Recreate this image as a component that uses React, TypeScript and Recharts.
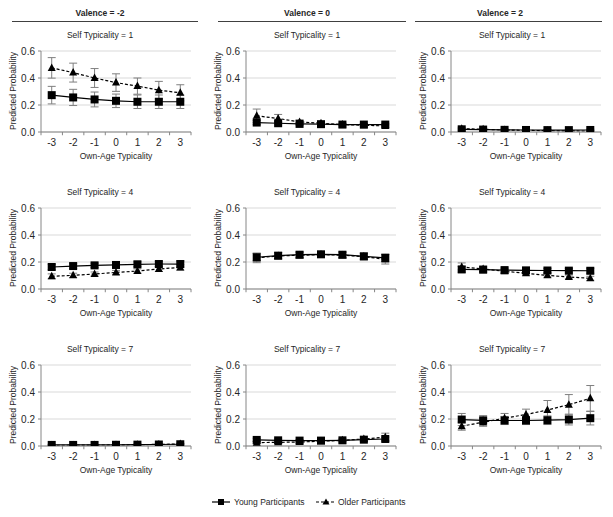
import React from 'react';
import { LineChart, Line, XAxis, YAxis, CartesianGrid, ErrorBar, ReferenceLine } from 'recharts';

const categories = [-3, -2, -1, 0, 1, 2, 3];
const boundaries = [-3.5, -2.5, -1.5, -0.5, 0.5, 1.5, 2.5, 3.5];
const yTicks = [0, 0.1, 0.2, 0.3, 0.4, 0.5, 0.6];
const valences = ['-2', '0', '2'];
const selfTypicality = ['1', '4', '7'];

// row 1: self typicality = 1
const youngV1S1 = [0.273, 0.256, 0.241, 0.231, 0.224, 0.224, 0.224];
const youngErrV1S1 = [0.065, 0.06, 0.055, 0.05, 0.05, 0.05, 0.05];
const olderV1S1 = [0.475, 0.44, 0.4, 0.366, 0.34, 0.31, 0.29];
const olderErrV1S1 = [0.076, 0.07, 0.07, 0.065, 0.06, 0.065, 0.06];

const youngV2S1 = [0.07, 0.065, 0.06, 0.058, 0.055, 0.055, 0.055];
const youngErrV2S1 = [0.015, 0.012, 0.01, 0.01, 0.008, 0.008, 0.01];
const olderV2S1 = [0.12, 0.1, 0.075, 0.065, 0.055, 0.05, 0.045];
const olderErrV2S1 = [0.05, 0.03, 0.015, 0.012, 0.01, 0.01, 0.012];

const youngV3S1 = [0.02, 0.018, 0.016, 0.015, 0.014, 0.014, 0.015];
const youngErrV3S1 = [0.006, 0.005, 0.005, 0.005, 0.005, 0.005, 0.006];
const olderV3S1 = [0.025, 0.02, 0.015, 0.012, 0.01, 0.008, 0.007];
const olderErrV3S1 = [0.01, 0.008, 0.006, 0.005, 0.005, 0.005, 0.005];

// row 2: self typicality = 4
const youngV1S4 = [0.163, 0.17, 0.175, 0.178, 0.183, 0.185, 0.185];
const youngErrV1S4 = [0.02, 0.018, 0.016, 0.016, 0.018, 0.02, 0.022];
const olderV1S4 = [0.094, 0.101, 0.111, 0.123, 0.133, 0.148, 0.16];
const olderErrV1S4 = [0.018, 0.016, 0.015, 0.015, 0.016, 0.018, 0.02];

const youngV2S4 = [0.235, 0.247, 0.254, 0.257, 0.254, 0.242, 0.23];
const youngErrV2S4 = [0.03, 0.022, 0.02, 0.02, 0.02, 0.022, 0.03];
const olderV2S4 = [0.23, 0.245, 0.25, 0.255, 0.25, 0.24, 0.22];
const olderErrV2S4 = [0.035, 0.025, 0.022, 0.022, 0.022, 0.025, 0.035];

const youngV3S4 = [0.145, 0.143, 0.14, 0.138, 0.137, 0.136, 0.135];
const youngErrV3S4 = [0.022, 0.018, 0.015, 0.015, 0.015, 0.016, 0.018];
const olderV3S4 = [0.163, 0.148, 0.131, 0.116, 0.101, 0.089, 0.079];
const olderErrV3S4 = [0.03, 0.022, 0.016, 0.014, 0.014, 0.014, 0.015];

// row 3: self typicality = 7
const youngV1S7 = [0.008, 0.008, 0.008, 0.009, 0.01, 0.011, 0.013];
const youngErrV1S7 = [0.004, 0.003, 0.003, 0.003, 0.003, 0.004, 0.005];
const olderV1S7 = [0.005, 0.006, 0.007, 0.008, 0.01, 0.012, 0.015];
const olderErrV1S7 = [0.003, 0.003, 0.003, 0.003, 0.004, 0.005, 0.006];

const youngV2S7 = [0.045, 0.042, 0.04, 0.04, 0.042, 0.047, 0.052];
const youngErrV2S7 = [0.012, 0.01, 0.008, 0.008, 0.008, 0.01, 0.014];
const olderV2S7 = [0.025, 0.027, 0.03, 0.035, 0.042, 0.052, 0.065];
const olderErrV2S7 = [0.01, 0.008, 0.008, 0.008, 0.01, 0.015, 0.03];

const youngV3S7 = [0.196, 0.19, 0.189, 0.189, 0.191, 0.196, 0.206];
const youngErrV3S7 = [0.045, 0.035, 0.03, 0.03, 0.032, 0.04, 0.05];
const olderV3S7 = [0.147, 0.176, 0.206, 0.233, 0.267, 0.306, 0.353];
const olderErrV3S7 = [0.03, 0.03, 0.035, 0.04, 0.07, 0.075, 0.095];

const panels = [
  [youngV1S1, youngErrV1S1, olderV1S1, olderErrV1S1],
  [youngV2S1, youngErrV2S1, olderV2S1, olderErrV2S1],
  [youngV3S1, youngErrV3S1, olderV3S1, olderErrV3S1],
  [youngV1S4, youngErrV1S4, olderV1S4, olderErrV1S4],
  [youngV2S4, youngErrV2S4, olderV2S4, olderErrV2S4],
  [youngV3S4, youngErrV3S4, olderV3S4, olderErrV3S4],
  [youngV1S7, youngErrV1S7, olderV1S7, olderErrV1S7],
  [youngV2S7, youngErrV2S7, olderV2S7, olderErrV2S7],
  [youngV3S7, youngErrV3S7, olderV3S7, olderErrV3S7],
];

const FONT = '"Liberation Sans", Arial, sans-serif';
const TEXT = '#262626';
const AXIS = '#868686';
const colLeft = [41, 246, 451];
const rowTop = [51, 208, 365];
const titleX = [100, 307, 512];
const headerX = [100, 307, 500];
const underline = [[12, 198], [218, 406], [415, 602]];

const Square = (props: any) => {
  const { cx, cy, index } = props;
  if (cx == null || cy == null) return <g key={`s-${index}`} />;
  return <rect key={`s-${index}`} x={cx - 4} y={cy - 4} width={8} height={8} fill="#000" />;
};

const Triangle = (props: any) => {
  const { cx, cy, index } = props;
  if (cx == null || cy == null) return <g key={`t-${index}`} />;
  return <polygon key={`t-${index}`} points={`${cx},${cy - 4.5} ${cx - 4},${cy + 3} ${cx + 4},${cy + 3}`} fill="#000" />;
};

const textStyle: React.CSSProperties = {
  position: 'absolute', fontFamily: FONT, fontSize: 8.5, color: TEXT, whiteSpace: 'nowrap',
  transform: 'translate(-50%, -50%)', lineHeight: 1,
};

const tickStyle = { fill: TEXT, fontSize: 10, fontFamily: FONT };

function Panel({ idx }: { idx: number }) {
  const col = idx % 3;
  const row = Math.floor(idx / 3);
  const [young, youngErr, older, olderErr] = panels[idx];
  const data = categories.map((c, i) => ({
    x: c, young: young[i], youngErr: youngErr[i], older: older[i], olderErr: olderErr[i],
  }));
  const left = colLeft[col] - 40;
  const top = rowTop[row] - 10;
  const plotMid = colLeft[col] + 75;
  return (
    <>
      <div style={{ ...textStyle, left: titleX[col], top: rowTop[row] - 16 }}>
        Self Typicality = {selfTypicality[row]}
      </div>
      <div style={{ ...textStyle, left: colLeft[col] - 28, top: rowTop[row] + 40, transform: 'translate(-50%, -50%) rotate(-90deg)' }}>
        Predicted Probability
      </div>
      <div style={{ ...textStyle, left: plotMid, top: rowTop[row] + 105 }}>Own-Age Typicality</div>
      <div style={{ position: 'absolute', left, top }}>
        <LineChart width={200} height={113} data={data} margin={{ top: 10, right: 10, left: 0, bottom: 0 }}>
          <CartesianGrid vertical={false} stroke="#d9d9d9" />
          <XAxis type="number" dataKey="x" domain={[-3.5, 3.5]} ticks={categories} interval={0}
            height={22} stroke={AXIS} tickLine={false} tickSize={4} tickMargin={3} tick={tickStyle} />
          <YAxis width={40} domain={[0, 0.6]} ticks={yTicks} stroke={AXIS} tickSize={3} tickMargin={3}
            tickFormatter={(v: number) => v.toFixed(1)} tick={tickStyle} allowDataOverflow />
          {boundaries.map((b) => (
            <ReferenceLine key={b} segment={[{ x: b, y: 0 }, { x: b, y: -0.024 }]} stroke={AXIS} ifOverflow="visible" />
          ))}
          <Line dataKey="older" stroke="#000" strokeWidth={1.2} strokeDasharray="3 2" dot={Triangle}
            activeDot={false} isAnimationActive={false}>
            <ErrorBar dataKey="olderErr" width={4} stroke="#7f7f7f" strokeWidth={1} direction="y" />
          </Line>
          <Line dataKey="young" stroke="#000" strokeWidth={1.2} dot={Square}
            activeDot={false} isAnimationActive={false}>
            <ErrorBar dataKey="youngErr" width={4} stroke="#7f7f7f" strokeWidth={1} direction="y" />
          </Line>
        </LineChart>
      </div>
    </>
  );
}

export default function App() {
  return (
    <div style={{ position: 'absolute', left: 0, top: 0, width: 613, height: 517, background: '#fff', overflow: 'hidden' }}>
      {valences.map((v, i) => (
        <React.Fragment key={v}>
          <div style={{ ...textStyle, left: headerX[i], top: 13, fontWeight: 'bold' }}>Valence = {v}</div>
          <div style={{ position: 'absolute', left: underline[i][0], top: 21, width: underline[i][1] - underline[i][0], height: 1, background: '#404040' }} />
        </React.Fragment>
      ))}
      {panels.map((_, i) => <Panel key={i} idx={i} />)}
      <svg style={{ position: 'absolute', left: 0, top: 494 }} width={613} height={16}>
        <line x1={212} x2={230} y1={8} y2={8} stroke="#000" strokeWidth={1.2} />
        <rect x={218} y={5} width={6} height={6} fill="#000" />
        <line x1={316} x2={335} y1={8} y2={8} stroke="#000" strokeWidth={1.2} strokeDasharray="3 2" />
        <polygon points="326,4.5 322.5,10.5 329.5,10.5" fill="#000" />
      </svg>
      <div style={{ ...textStyle, left: 234, top: 502, transform: 'translate(0, -50%)' }}>Young Participants</div>
      <div style={{ ...textStyle, left: 338, top: 502, transform: 'translate(0, -50%)' }}>Older Participants</div>
    </div>
  );
}
